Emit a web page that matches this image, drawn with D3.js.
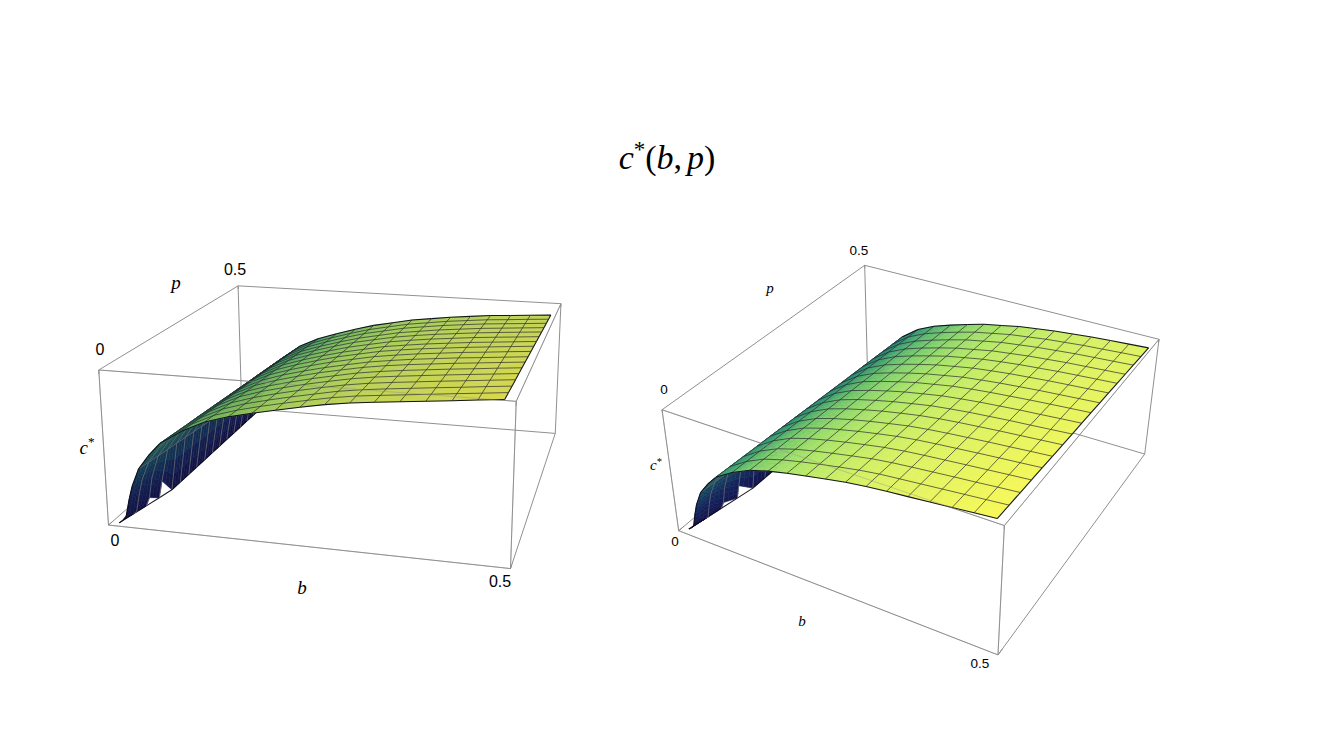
<!DOCTYPE html>
<html><head><meta charset="utf-8">
<script src="https://cdn.jsdelivr.net/npm/d3@7"></script>
<style>html,body{margin:0;background:#fff}svg{display:block}text{fill:#000}</style></head>
<body><svg id="c" width="1334" height="750"></svg>
<script>
const tickLabels = ["0", "0.5"];
const meshB = [.010,.040,.070,.099,.129,.159,.189,.218,.248,.278,.308,.337,.367,.397,.427,.456,.486];
const sampleB = [.010,.015,.020,.025,.030,.040,.055,.070,.099,.129,.159,.189,.218,.248,.278,.308,.337,.367,.397,.427,.456,.486];
const sampleP = [.010,.041,.071,.102,.133,.163,.194,.224,.255,.286,.316,.347,.378,.408,.439,.469,.500];
const _ = null;
const cStar = [
[.000,.020,.050,.160,.250,.370,.470,.550,.640,.710,.755,.790,.820,.850,.878,.900,.915,.930,.945,.960,.975,.990],
[_,.000,.020,.140,.241,.361,.462,.543,.634,.704,.749,.785,.816,.846,.874,.896,.911,.926,.941,.956,.970,.985],
[_,_,.000,.060,.200,.351,.455,.536,.628,.698,.744,.780,.811,.841,.870,.891,.907,.922,.937,.951,.966,.980],
[_,_,_,.000,.120,.342,.448,.529,.622,.692,.738,.775,.807,.837,.865,.887,.903,.918,.933,.947,.961,.975],
[_,_,_,_,.000,.333,.440,.523,.616,.686,.733,.770,.803,.833,.861,.883,.899,.914,.929,.943,.956,.970],
[_,_,_,_,.000,.323,.433,.516,.610,.680,.727,.765,.798,.828,.857,.878,.895,.910,.925,.938,.952,.965],
[_,_,_,_,.000,.314,.425,.509,.604,.674,.721,.760,.794,.824,.852,.874,.891,.906,.921,.934,.947,.960],
[_,_,_,_,.000,.304,.418,.502,.598,.668,.716,.755,.789,.819,.848,.869,.887,.902,.917,.929,.942,.955],
[_,_,_,_,.000,.295,.410,.495,.593,.663,.710,.750,.785,.815,.844,.865,.883,.898,.913,.925,.938,.950],
[_,_,_,_,.000,.286,.403,.488,.587,.657,.704,.745,.781,.811,.840,.861,.878,.893,.908,.921,.933,.945],
[_,_,_,_,.000,.276,.395,.481,.581,.651,.699,.740,.776,.806,.836,.856,.874,.889,.904,.916,.928,.940],
[_,_,_,_,.000,.267,.388,.474,.575,.645,.693,.735,.772,.802,.831,.852,.870,.885,.900,.912,.923,.935],
[_,_,_,_,.000,.258,.380,.468,.569,.639,.688,.730,.768,.798,.827,.848,.866,.881,.896,.908,.919,.930],
[_,_,_,_,.000,.248,.373,.461,.563,.633,.682,.725,.763,.793,.823,.843,.862,.877,.892,.903,.914,.925],
[_,_,_,_,.000,.239,.365,.454,.557,.627,.676,.720,.759,.789,.819,.839,.858,.873,.888,.899,.909,.920],
[_,_,_,_,.000,.229,.358,.447,.551,.621,.671,.715,.754,.784,.814,.834,.854,.869,.884,.894,.905,.915],
[_,_,_,_,.000,.220,.350,.440,.545,.615,.665,.710,.750,.780,.810,.830,.850,.865,.880,.890,.900,.910]
];
const rampStops = [0,.18,.35,.5,.6,.7,.8,.9,1];
const rampColors = ["#1a1660","#1a2f74","#1c5a78","#2a8474","#45a672","#80d06e","#b4e868","#dcf264","#fbf956"];

const views = [
 {shade:.87, fsTick:16, fsVar:19,
  corners:[[0,0,1,99,370],[0,0,0,108,525],[0,1,1,238,286],[0,1,0,242,408],[1,0,1,516,402],[1,0,0,511,568],[1,1,1,561,303],[1,1,0,555,434]],
  ticks:[[0,100,349],[1,235,269],[0,115,540],[1,500,581]], vars:[["p",176,282],["b",302,587]], cl:[87,447]},
 {shade:1, fsTick:13.5, fsVar:15,
  corners:[[0,0,1,662,409],[0,0,0,679,531],[0,1,1,865,265],[0,1,0,867,373],[1,0,1,1004,526],[1,0,0,998,655],[1,1,1,1159,340],[1,1,0,1145,453]],
  ticks:[[0,664,389],[1,859,250],[0,675,541],[1,980,663]], vars:[["p",770,288],["b",802,621]], cl:[656,465]}
];

const sx = d3.scaleLinear().domain([0,.5]).range([0,1]);
const sy = d3.scaleLinear().domain([0,.5]).range([0,1]);
const sz = d3.scaleLinear().domain([0,1]).range([0,1]);
const ramp = d3.scaleLinear().domain(rampStops).range(rampColors).interpolate(d3.interpolateRgb).clamp(true);

function fitCamera(pts){
  const A=[],Y=[];
  pts.forEach(([x,y,z,u,v])=>{
    A.push([x,y,z,1,0,0,0,0,-u*x,-u*y,-u*z]);Y.push(u);
    A.push([0,0,0,0,x,y,z,1,-v*x,-v*y,-v*z]);Y.push(v);
  });
  const n=11,M=d3.range(n).map(i=>d3.range(n+1).map(j=>j<n?d3.sum(A,(r)=>r[i]*r[j]):d3.sum(A,(r,k)=>r[i]*Y[k])));
  for(let i=0;i<n;i++){
    let m=i;for(let k=i+1;k<n;k++)if(Math.abs(M[k][i])>Math.abs(M[m][i]))m=k;
    [M[i],M[m]]=[M[m],M[i]];
    for(let k=0;k<n;k++)if(k!==i){const f=M[k][i]/M[i][i];for(let j=i;j<=n;j++)M[k][j]-=f*M[i][j];}
  }
  return M.map((r,i)=>r[n]/r[i]);
}
const svg=d3.select("#c");
const line=d3.line();
function drawView(v){
  const m=fitCamera(v.corners);
  const proj=(b,p,c)=>{const x=sx(b),y=sy(p),z=sz(c),w=m[8]*x+m[9]*y+m[10]*z+1;
    return [(m[0]*x+m[1]*y+m[2]*z+m[3])/w,(m[4]*x+m[5]*y+m[6]*z+m[7])/w,w];};
  const g=svg.append("g");
  const boxE=(a,b)=>[proj(a[0]*.5,a[1]*.5,a[2]).slice(0,2),proj(b[0]*.5,b[1]*.5,b[2]).slice(0,2)];
  const back=[[[0,1,1],[1,1,1]],[[0,1,1],[0,0,1]],[[0,1,1],[0,1,0]],[[0,1,0],[1,1,0]],[[0,1,0],[0,0,0]],[[1,1,1],[1,1,0]],[[1,1,0],[1,0,0]]];
  const front=[[[0,0,1],[1,0,1]],[[1,0,1],[1,1,1]],[[0,0,1],[0,0,0]],[[0,0,0],[1,0,0]],[[1,0,0],[1,0,1]]];
  const boxColor="#909090";
  g.append("g").selectAll("path").data(back.concat(front)).join("path")
    .attr("d",d=>line(boxE(d[0],d[1]))).attr("fill","none").attr("stroke",boxColor).attr("stroke-width",1);
  const stubs=[];
  [0,.5].forEach(t=>{stubs.push([proj(t,0,1),proj(t,0,.975)]);stubs.push([proj(t,.5,1),proj(t,.5,.975)]);
    stubs.push([proj(t,0,0),proj(t,.012,0)]);});
  g.append("g").selectAll("path").data(stubs).join("path").attr("d",d=>line(d.map(q=>q.slice(0,2))))
    .attr("fill","none").attr("stroke",boxColor).attr("stroke-width",1);

  const nSub=3;
  const bl=(i,j,s,t)=>{
    const c00=cStar[j][i],c10=cStar[j][i+1],c01=cStar[j+1][i],c11=cStar[j+1][i+1];
    const b=sampleB[i]+(sampleB[i+1]-sampleB[i])*s,p=sampleP[j]+(sampleP[j+1]-sampleP[j])*t;
    const c=c00*(1-s)*(1-t)+c10*s*(1-t)+c01*(1-s)*t+c11*s*t;
    return {b,p,c,q:proj(b,p,c)};
  };
  const valid=(i,j)=>i>=0&&j>=0&&i<sampleB.length-1&&j<sampleP.length-1&&
    [cStar[j][i],cStar[j][i+1],cStar[j+1][i],cStar[j+1][i+1]].every(x=>x!==null);
  const facing=(i,j)=>valid(i,j)&&d3.polygonArea([bl(i,j,0,0).q,bl(i,j,1,0).q,bl(i,j,1,1).q,bl(i,j,0,1).q].map(q=>q.slice(0,2)))>0;
  const fills=[],lines=[];
  for(let j=0;j<sampleP.length-1;j++)for(let i=0;i<sampleB.length-1;i++){
    if(!valid(i,j))continue;
    const top=facing(i,j);
    for(let a=0;a<nSub;a++)for(let e=0;e<nSub;e++){
      const P=[bl(i,j,a/nSub,e/nSub),bl(i,j,(a+1)/nSub,e/nSub),bl(i,j,(a+1)/nSub,(e+1)/nSub),bl(i,j,a/nSub,(e+1)/nSub)];
      const pts=P.map(d=>d.q.slice(0,2));
      const col=d3.color(ramp(d3.mean(P,d=>d.c)));
      const k=v.shade*(top?1:.8);
      const fill=`rgb(${col.r*k|0},${col.g*k|0},${col.b*k|0})`;
      fills.push({top,z:d3.mean(P,d=>d.q[2]),d:line(pts)+"Z",fill});
    }
  }
  const at=(i,j)=>cStar[j][i]===null?null:proj(sampleB[i],sampleP[j],cStar[j][i]);
  const seg=(A,B,top,edge)=>{ if(!A||!B)return;
    lines.push({top,z:(A[2]+B[2])/2,d:line([A.slice(0,2),B.slice(0,2)]),
      stroke:edge?"#0a0a18":(top?"#26262c":"#6a6a70"),sw:edge?1.05:.95,op:edge?.95:(top?.72:.8)});};
  sampleP.forEach((p,j)=>{for(let i=0;i<sampleB.length-1;i++){
    const edge=j===0||j===sampleP.length-1;
    seg(at(i,j),at(i+1,j),facing(i,j)||facing(i,j-1),edge);
  }});
  sampleB.forEach((b,i)=>{ const isMesh=meshB.includes(b);
    for(let j=0;j<sampleP.length-1;j++){
      const last=i===sampleB.length-1;
      if(last||isMesh) seg(at(i,j),at(i,j+1),facing(i,j)||facing(i-1,j),last);
    }});
  const fi=r=>cStar[r].findIndex(x=>x!==null);
  for(let j=0;j<sampleP.length-1;j++) seg(at(fi(j),j),at(fi(j+1),j+1),false,true);

  const sortZ=(a,b)=>b.z-a.z;
  const layer=(rows)=>g.append("g").selectAll("path").data(rows).join("path").attr("d",d=>d.d)
     .attr("fill",d=>d.fill||"none").attr("stroke",d=>d.stroke||d.fill)
     .attr("stroke-width",d=>d.sw||.6).attr("stroke-opacity",d=>d.op||1).attr("stroke-linejoin","round");
  // underside first, then the sheet's upper side, each with its own mesh on top
  layer(fills.filter(d=>!d.top).sort(sortZ));
  layer(lines.filter(d=>!d.top).sort(sortZ));
  layer(fills.filter(d=>d.top).sort(sortZ));
  layer(lines.filter(d=>d.top).sort(sortZ));
  g.append("g").selectAll("path").data(front).join("path")
    .attr("d",d=>line(boxE(d[0],d[1]))).attr("fill","none").attr("stroke",boxColor).attr("stroke-width",1).attr("stroke-opacity",.4);

  const tg=g.append("g");
  tg.selectAll("text.t").data(v.ticks).join("text").attr("class","t")
    .attr("x",d=>d[1]).attr("y",d=>d[2]).attr("text-anchor","middle").attr("dominant-baseline","central")
    .attr("font-family","'Liberation Sans',Arial,sans-serif").attr("font-size",v.fsTick).text(d=>tickLabels[d[0]]);
  tg.selectAll("text.v").data(v.vars).join("text").attr("class","v")
    .attr("x",d=>d[1]).attr("y",d=>d[2]).attr("text-anchor","middle").attr("dominant-baseline","central")
    .attr("font-family","'Liberation Serif',serif").attr("font-style","italic").attr("font-size",v.fsVar).text(d=>d[0]);
  const cl=tg.append("text").attr("x",v.cl[0]).attr("y",v.cl[1]).attr("text-anchor","middle").attr("dominant-baseline","central")
    .attr("font-family","'Liberation Serif',serif").attr("font-size",v.fsVar);
  cl.append("tspan").attr("font-style","italic").text("c");
  cl.append("tspan").attr("font-size",v.fsVar*.7).attr("dy",-v.fsVar*.3).text("*");
}
views.forEach(drawView);
const title=svg.append("text").attr("x",667).attr("y",169).attr("text-anchor","middle")
  .attr("font-family","'Liberation Serif',serif").attr("font-size",34);
[["c",1,0],["*",0,-12],["(",0,12],["b",1,0],[",",0,0],["p",1,0],[")",0,0]].forEach(([s,it,dy],i)=>{
  title.append("tspan").attr("font-style",it?"italic":"normal").attr("font-size",s==="*"?23:34).attr("dy",dy).attr("dx",s==="p"?5:0).text(s);
});
</script></body></html>
